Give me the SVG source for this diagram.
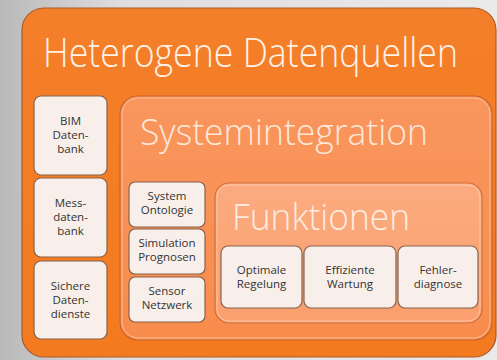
<svg xmlns="http://www.w3.org/2000/svg" width="497" height="360" viewBox="0 0 497 360">
<defs>
<linearGradient id="bg" x1="0" y1="0" x2="1" y2="0">
<stop offset="0" stop-color="#b9b9b9"/>
<stop offset="0.25" stop-color="#dedede"/>
<stop offset="1" stop-color="#eaeaea"/>
</linearGradient>
<linearGradient id="og" x1="0" y1="0" x2="0" y2="1">
<stop offset="0" stop-color="#f47f2a"/>
<stop offset="1" stop-color="#f47a1f"/>
</linearGradient>
<linearGradient id="sg" x1="0" y1="0" x2="0" y2="1">
<stop offset="0" stop-color="#f9965e"/>
<stop offset="1" stop-color="#f88c4c"/>
</linearGradient>
<linearGradient id="fg" x1="0" y1="0" x2="0" y2="1">
<stop offset="0" stop-color="#fbab80"/>
<stop offset="1" stop-color="#fa9f6e"/>
</linearGradient>
</defs>
<style>
.box{fill:#f8efea;stroke:#86634f;stroke-width:1.2}
.t{font-family:"Open Sans","Noto Sans","Liberation Sans",sans-serif;font-size:11.5px;fill:#333333;text-anchor:middle}
.h{font-family:"Open Sans","Noto Sans","Liberation Sans",sans-serif;font-weight:300}
</style>
<rect x="0" y="0" width="497" height="360" fill="url(#bg)"/>
<g id="heterogene">
<rect x="22" y="8" width="474" height="349" rx="22" fill="url(#og)" stroke="#a85a2a" stroke-width="1.2"/>
<text class="h" x="43" y="67" font-size="41" fill="#fff1e6" textLength="415" lengthAdjust="spacingAndGlyphs">Heterogene Datenquellen</text>
</g>
<g id="bim">
<rect class="box" x="34" y="96" width="73" height="79" rx="7"/>
<text class="t" x="70.5" y="125">BIM</text>
<text class="t" x="70.5" y="139">Daten-</text>
<text class="t" x="70.5" y="153">bank</text>
</g>
<g id="mess">
<rect class="box" x="34" y="178" width="73" height="79" rx="7"/>
<text class="t" x="70.5" y="207">Mess-</text>
<text class="t" x="70.5" y="221">daten-</text>
<text class="t" x="70.5" y="235">bank</text>
</g>
<g id="sichere">
<rect class="box" x="34" y="261" width="73" height="78" rx="7"/>
<text class="t" x="70.5" y="290">Sichere</text>
<text class="t" x="70.5" y="304">Daten-</text>
<text class="t" x="70.5" y="318">dienste</text>
</g>
<g id="systemintegration">
<rect x="120" y="96" width="372" height="244" rx="18" fill="url(#sg)" stroke="#c9652e" stroke-width="1.2"/>
<rect x="122" y="98" width="368" height="240" rx="16" fill="none" stroke="#fcc7a6" stroke-width="1" opacity="0.8"/>
<text class="h" x="140" y="145" font-size="37" fill="#fde8da" textLength="288" lengthAdjust="spacingAndGlyphs">Systemintegration</text>
</g>
<g id="ontologie">
<rect class="box" x="129" y="182" width="76" height="45" rx="6"/>
<text class="t" x="167" y="200">System</text>
<text class="t" x="167" y="214">Ontologie</text>
</g>
<g id="simulation">
<rect class="box" x="129" y="229" width="76" height="45" rx="6"/>
<text class="t" x="167" y="247">Simulation</text>
<text class="t" x="167" y="261">Prognosen</text>
</g>
<g id="sensor">
<rect class="box" x="129" y="277" width="76" height="45" rx="6"/>
<text class="t" x="167" y="295">Sensor</text>
<text class="t" x="167" y="309">Netzwerk</text>
</g>
<g id="funktionen">
<rect x="215" y="183" width="267" height="140" rx="14" fill="url(#fg)" stroke="#d2703a" stroke-width="1.2"/>
<rect x="217" y="185" width="263" height="136" rx="12" fill="none" stroke="#fdd0b5" stroke-width="1" opacity="0.8"/>
<text class="h" x="232" y="230" font-size="37" fill="#fdede2" textLength="178" lengthAdjust="spacingAndGlyphs">Funktionen</text>
</g>
<g id="regelung">
<rect class="box" x="221" y="246" width="81" height="62" rx="7"/>
<text class="t" x="261.5" y="274">Optimale</text>
<text class="t" x="261.5" y="288">Regelung</text>
</g>
<g id="wartung">
<rect class="box" x="304" y="246" width="92" height="62" rx="7"/>
<text class="t" x="350" y="274">Effiziente</text>
<text class="t" x="350" y="288">Wartung</text>
</g>
<g id="diagnose">
<rect class="box" x="398" y="246" width="80" height="62" rx="7"/>
<text class="t" x="438" y="274">Fehler-</text>
<text class="t" x="438" y="288">diagnose</text>
</g>
</svg>
